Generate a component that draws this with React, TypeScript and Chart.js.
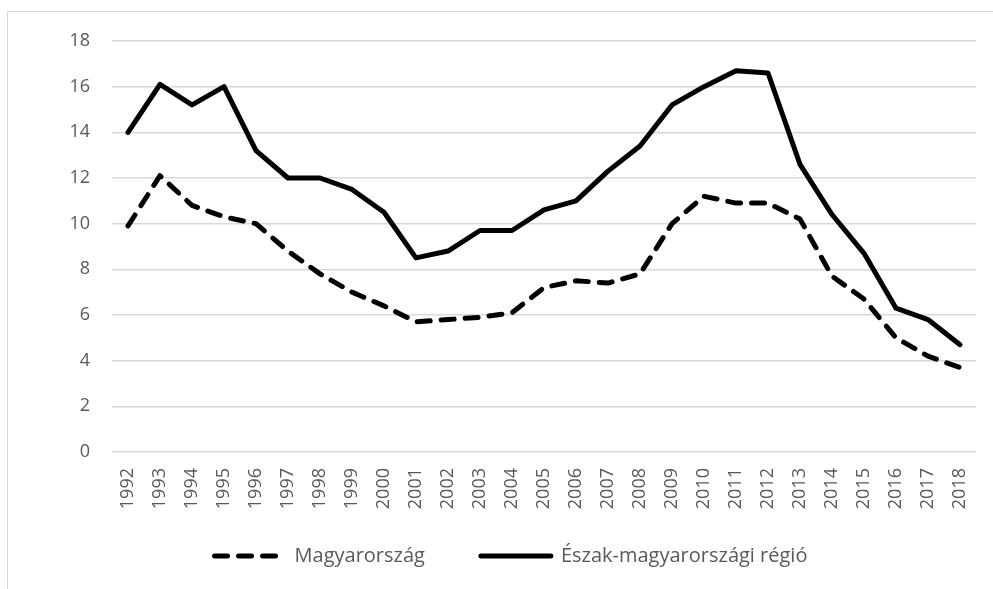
import React, { useEffect, useRef } from "react";
import { Chart, registerables } from "chart.js";

Chart.register(...registerables);

const years = [
  "1992", "1993", "1994", "1995", "1996", "1997", "1998", "1999", "2000",
  "2001", "2002", "2003", "2004", "2005", "2006", "2007", "2008", "2009",
  "2010", "2011", "2012", "2013", "2014", "2015", "2016", "2017", "2018",
];

const magyarorszag = [
  9.9, 12.1, 10.8, 10.3, 10.0, 8.8, 7.8, 7.0, 6.4,
  5.7, 5.8, 5.9, 6.1, 7.2, 7.5, 7.4, 7.8, 10.0,
  11.2, 10.9, 10.9, 10.2, 7.7, 6.7, 5.0, 4.2, 3.7,
];

const eszakMagyarorszag = [
  14.0, 16.1, 15.2, 16.0, 13.2, 12.0, 12.0, 11.5, 10.5,
  8.5, 8.8, 9.7, 9.7, 10.6, 11.0, 12.3, 13.4, 15.2,
  16.0, 16.7, 16.6, 12.6, 10.4, 8.7, 6.3, 5.8, 4.7,
];

const seriesNames = ["Magyarország", "Észak-magyarországi régió"];

const yMin = 0;
const yMax = 18;
const yStep = 2;

const FONT = "'Open Sans', sans-serif";
const TEXT = "#595959";

// lets the rotated year labels draw below the (short) x-axis box
const labelRoom = {
  id: "labelRoom",
  afterLayout(chart: any) {
    const x = chart.scales.x;
    x.bottom = x.top + 80;
  },
};

export default function App() {
  const ref = useRef<HTMLCanvasElement | null>(null);

  useEffect(() => {
    const canvas = ref.current;
    if (!canvas) return;
    const chart = new Chart(canvas, {
      type: "line",
      data: {
        labels: years,
        datasets: [
          {
            label: seriesNames[0],
            data: magyarorszag,
            borderColor: "#000000",
            backgroundColor: "#000000",
            borderWidth: 5,
            borderDash: [13, 11],
            borderCapStyle: "round",
            borderJoinStyle: "round",
            pointRadius: 0,
            pointHoverRadius: 0,
            tension: 0,
            fill: false,
          },
          {
            label: seriesNames[1],
            data: eszakMagyarorszag,
            borderColor: "#000000",
            backgroundColor: "#000000",
            borderWidth: 5,
            borderCapStyle: "round",
            borderJoinStyle: "round",
            pointRadius: 0,
            pointHoverRadius: 0,
            tension: 0,
            fill: false,
          },
        ],
      },
      plugins: [labelRoom],
      options: {
        animation: false,
        responsive: false,
        maintainAspectRatio: false,
        devicePixelRatio: 1,
        layout: { padding: { top: 41, right: 17, bottom: 13, left: 0 } },
        plugins: {
          tooltip: { enabled: false },
          legend: {
            display: true,
            position: "bottom",
            labels: {
              usePointStyle: true,
              pointStyle: "line",
              pointStyleWidth: 70,
              padding: 56,
              color: TEXT,
              font: { family: FONT, size: 20 },
              generateLabels: (c: any) => {
                const items = Chart.defaults.plugins.legend.labels.generateLabels(c);
                return items.map((it: any) => {
                  const ds: any = c.data.datasets[it.datasetIndex];
                  return {
                    ...it,
                    pointStyle: "line",
                    lineDash: ds.borderDash || [],
                    lineCap: ds.borderCapStyle,
                    lineWidth: ds.borderWidth,
                    strokeStyle: ds.borderColor,
                    fillStyle: ds.borderColor,
                  };
                });
              },
            },
          },
        },
        scales: {
          x: {
            type: "category",
            offset: true,
            grid: { display: false, drawTicks: false },
            border: { display: false },
            ticks: {
              color: TEXT,
              font: { family: FONT, size: 18 },
              minRotation: 90,
              maxRotation: 90,
              autoSkip: false,
              padding: 16,
            },
            afterFit: (scale: any) => {
              scale.height = 38;
              scale.paddingLeft = 0;
              scale.paddingRight = 0;
            },
          },
          y: {
            min: yMin,
            max: yMax,
            grid: { color: "#d9d9d9", lineWidth: 1.5, drawTicks: false },
            border: { display: false },
            ticks: {
              stepSize: yStep,
              color: TEXT,
              font: { family: FONT, size: 18 },
              padding: 22,
            },
            afterFit: (scale: any) => {
              scale.width = 66;
            },
          },
        },
      },
    });
    return () => chart.destroy();
  }, []);

  return (
    <div
      style={{
        position: "fixed",
        left: 0,
        top: 0,
        width: 993,
        height: 589,
        overflow: "hidden",
        background: "#ffffff",
      }}
    >
      <div
        style={{
          position: "absolute",
          left: 7,
          top: 11,
          width: 1200,
          height: 800,
          border: "1px solid #d9d9d9",
        }}
      />
      <canvas
        ref={ref}
        width={947}
        height={589}
        style={{ position: "absolute", left: 46, top: 0, width: 947, height: 589 }}
      />
    </div>
  );
}
